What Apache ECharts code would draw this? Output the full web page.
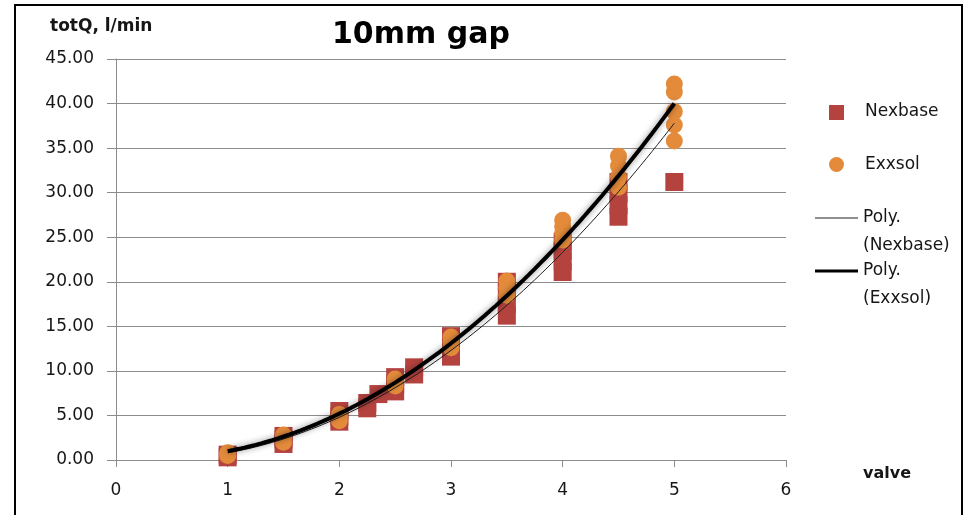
<!DOCTYPE html>
<html>
<head>
<meta charset="utf-8">
<title>10mm gap</title>
<script src="https://cdn.jsdelivr.net/npm/echarts@6/dist/echarts.min.js"></script>
<style>
  html, body { margin: 0; padding: 0; background: #ffffff; }
  #chart { width: 972px; height: 515px; }
</style>
</head>
<body>
<div id="chart"></div>
<script>
// Measured flow per valve setting, one [valve, totQ] pair per run
const nexbase = [
  [1, 0.3], [1, 0.6],
  [1.5, 1.8], [1.5, 2.3], [1.5, 2.7],
  [2, 4.3], [2, 4.9], [2, 5.5],
  [2.25, 5.8], [2.25, 6.4],
  [2.35, 7.4],
  [2.5, 7.7], [2.5, 8.5], [2.5, 9.3],
  [2.67, 9.6], [2.67, 10.4],
  [3, 11.6], [3, 12.5], [3, 13.3], [3, 13.9],
  [3.5, 16.2], [3.5, 17.5], [3.5, 18.8], [3.5, 20.0],
  [4, 21.1], [4, 22.3], [4, 23.5], [4, 24.5],
  [4.5, 27.3], [4.5, 28.6], [4.5, 29.9], [4.5, 31.2],
  [5, 31.2]
];
const exxsol = [
  [1, 0.5], [1, 0.8],
  [1.5, 2.0], [1.5, 2.5], [1.5, 2.8],
  [2, 4.4], [2, 4.8], [2, 5.1],
  [2.5, 8.3], [2.5, 8.8], [2.5, 9.1],
  [3, 12.6], [3, 13.2], [3, 13.8],
  [3.5, 18.5], [3.5, 19.3], [3.5, 20.1],
  [4, 24.7], [4, 25.5], [4, 26.2], [4, 26.9],
  [4.5, 30.6], [4.5, 31.8], [4.5, 33.0], [4.5, 34.1],
  [5, 35.8], [5, 37.6], [5, 39.1], [5, 41.3], [5, 42.2]
];

// Second-order trendline coefficients [a, b, c] for a*x^2 + b*x + c
const polyNexbase = [1.75, -1.25, 0.3];
const polyExxsol = [1.85, -1.35, 0.5];
const trendRange = [1, 5];

// Axis settings
const xAxisRange = [0, 6, 1];
const yAxisRange = [0, 45, 5];

const legendLabels = ['Nexbase', 'Exxsol', 'Poly.', '(Nexbase)', 'Poly.', '(Exxsol)'];

function trendPoints(coef) {
  const pts = [];
  const steps = 80;
  for (let i = 0; i <= steps; i++) {
    const x = trendRange[0] + (trendRange[1] - trendRange[0]) * i / steps;
    pts.push([x, coef[0] * x * x + coef[1] * x + coef[2]]);
  }
  return pts;
}

const FONT = 'DejaVu Sans';
const TEXT = '#161616';
const RED = '#b4433f';
const ORANGE = '#e38b3b';

const chart = echarts.init(document.getElementById('chart'), null, { renderer: 'canvas' });

chart.setOption({
  backgroundColor: '#ffffff',
  animation: false,
  grid: { left: 116, right: 186, top: 59, bottom: 55, containLabel: false },
  xAxis: {
    type: 'value',
    min: xAxisRange[0], max: xAxisRange[1], interval: xAxisRange[2],
    axisLine: { show: true, lineStyle: { color: '#8c8c8c', width: 1 } },
    axisTick: { show: true, length: 7, inside: false, lineStyle: { color: '#8c8c8c' } },
    splitLine: { show: false },
    axisLabel: { margin: 22, fontFamily: FONT, fontSize: 17, color: TEXT }
  },
  yAxis: {
    type: 'value',
    min: yAxisRange[0], max: yAxisRange[1], interval: yAxisRange[2],
    axisLine: { show: true, lineStyle: { color: '#8c8c8c', width: 1 } },
    axisTick: { show: true, length: 9, inside: false, lineStyle: { color: '#8c8c8c' } },
    splitLine: { show: true, lineStyle: { color: '#8c8c8c', width: 1 } },
    axisLabel: {
      margin: 22, fontFamily: FONT, fontSize: 17, color: TEXT,
      formatter: v => v.toFixed(2)
    }
  },
  series: [
    {
      name: 'Nexbase', type: 'scatter', symbol: 'rect', symbolSize: [18, 18],
      itemStyle: { color: RED, opacity: 1 }, data: nexbase, z: 2
    },
    {
      name: 'Exxsol', type: 'scatter', symbol: 'circle', symbolSize: 17,
      itemStyle: { color: ORANGE, opacity: 1 }, data: exxsol, z: 3
    },
    {
      name: 'Poly. (Nexbase)', type: 'line', showSymbol: false, symbol: 'none',
      smooth: false, data: trendPoints(polyNexbase),
      lineStyle: { color: '#202020', width: 1 }, z: 4
    },
    {
      name: 'Poly. (Exxsol)', type: 'line', showSymbol: false, symbol: 'none',
      smooth: false, data: trendPoints(polyExxsol),
      lineStyle: {
        color: '#000000', width: 4,
        shadowColor: 'rgba(0,0,0,0.45)', shadowBlur: 6
      }, z: 5
    }
  ],
  graphic: [
    // chart frame
    { type: 'rect', shape: { x: 15, y: 5, width: 947, height: 530 },
      style: { fill: null, stroke: '#000000', lineWidth: 2 }, silent: true, z: 10 },
    // title
    { type: 'text', left: 421 - 89, top: 20,
      style: { text: '10mm gap', font: 'bold 30px "' + FONT + '"', fill: '#000000' } },
    // axis names
    { type: 'text', x: 50, y: 27,
      style: { text: 'totQ, l/min', font: 'bold 17px "' + FONT + '"', fill: TEXT, textVerticalAlign: 'middle' } },
    { type: 'text', x: 863, y: 474,
      style: { text: 'valve', font: 'bold 16px "' + FONT + '"', fill: TEXT, textVerticalAlign: 'middle' } },
    // legend
    { type: 'rect', shape: { x: 829, y: 105, width: 15, height: 15 }, style: { fill: RED } },
    { type: 'text', x: 865, y: 112,
      style: { text: legendLabels[0], font: '17px "' + FONT + '"', fill: TEXT, textVerticalAlign: 'middle' } },
    { type: 'circle', shape: { cx: 836.5, cy: 164.5, r: 7.5 }, style: { fill: ORANGE } },
    { type: 'text', x: 865, y: 165,
      style: { text: legendLabels[1], font: '17px "' + FONT + '"', fill: TEXT, textVerticalAlign: 'middle' } },
    { type: 'line', shape: { x1: 815, y1: 218, x2: 858, y2: 218 }, style: { stroke: '#202020', lineWidth: 1 } },
    { type: 'text', x: 863, y: 218,
      style: { text: legendLabels[2], font: '17px "' + FONT + '"', fill: TEXT, textVerticalAlign: 'middle' } },
    { type: 'text', x: 863, y: 246,
      style: { text: legendLabels[3], font: '17px "' + FONT + '"', fill: TEXT, textVerticalAlign: 'middle' } },
    { type: 'line', shape: { x1: 815, y1: 271, x2: 858, y2: 271 }, style: { stroke: '#000000', lineWidth: 3 } },
    { type: 'text', x: 863, y: 271,
      style: { text: legendLabels[4], font: '17px "' + FONT + '"', fill: TEXT, textVerticalAlign: 'middle' } },
    { type: 'text', x: 863, y: 299,
      style: { text: legendLabels[5], font: '17px "' + FONT + '"', fill: TEXT, textVerticalAlign: 'middle' } }
  ]
});
</script>
</body>
</html>
